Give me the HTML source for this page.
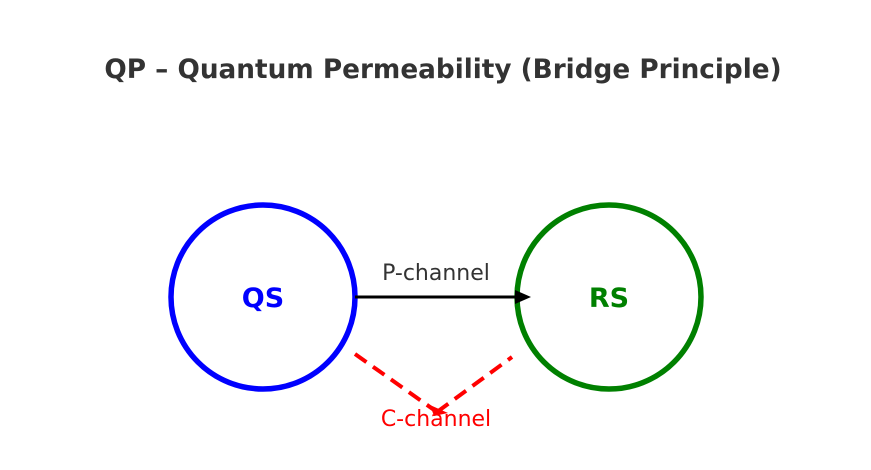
<!DOCTYPE html>
<html><head><style>body{margin:0;background:#fff}</style></head><body>
<svg width="871" height="465" xmlns="http://www.w3.org/2000/svg" font-family="DejaVu Sans, Liberation Sans, sans-serif">
<text x="443" y="78" text-anchor="middle" font-size="26.3" font-weight="bold" fill="#333">QP – Quantum Permeability (Bridge Principle)</text>
<circle cx="263" cy="297" r="92" fill="none" stroke="#0000ff" stroke-width="5.5"/>
<circle cx="609" cy="297" r="92" fill="none" stroke="#008000" stroke-width="5.5"/>
<text x="263" y="307" text-anchor="middle" font-size="27" font-weight="bold" fill="#0000ff">QS</text>
<text x="609" y="307" text-anchor="middle" font-size="27" font-weight="bold" fill="#008000">RS</text>
<line x1="355" y1="297" x2="518" y2="297" stroke="#000" stroke-width="3"/>
<polygon points="515,290 531,297 515,304" fill="#000"/>
<text x="436" y="280" text-anchor="middle" font-size="22" fill="#333">P-channel</text>
<line x1="355" y1="354" x2="437" y2="412" stroke="#ff0000" stroke-width="4" stroke-dasharray="14,8"/>
<line x1="437" y1="412" x2="512" y2="357" stroke="#ff0000" stroke-width="4" stroke-dasharray="14,8"/>
<polygon points="430,405 448,413 434,416" fill="#ff0000"/>
<text x="436" y="426" text-anchor="middle" font-size="22" fill="#ff0000">C-channel</text>
</svg>
</body></html>
